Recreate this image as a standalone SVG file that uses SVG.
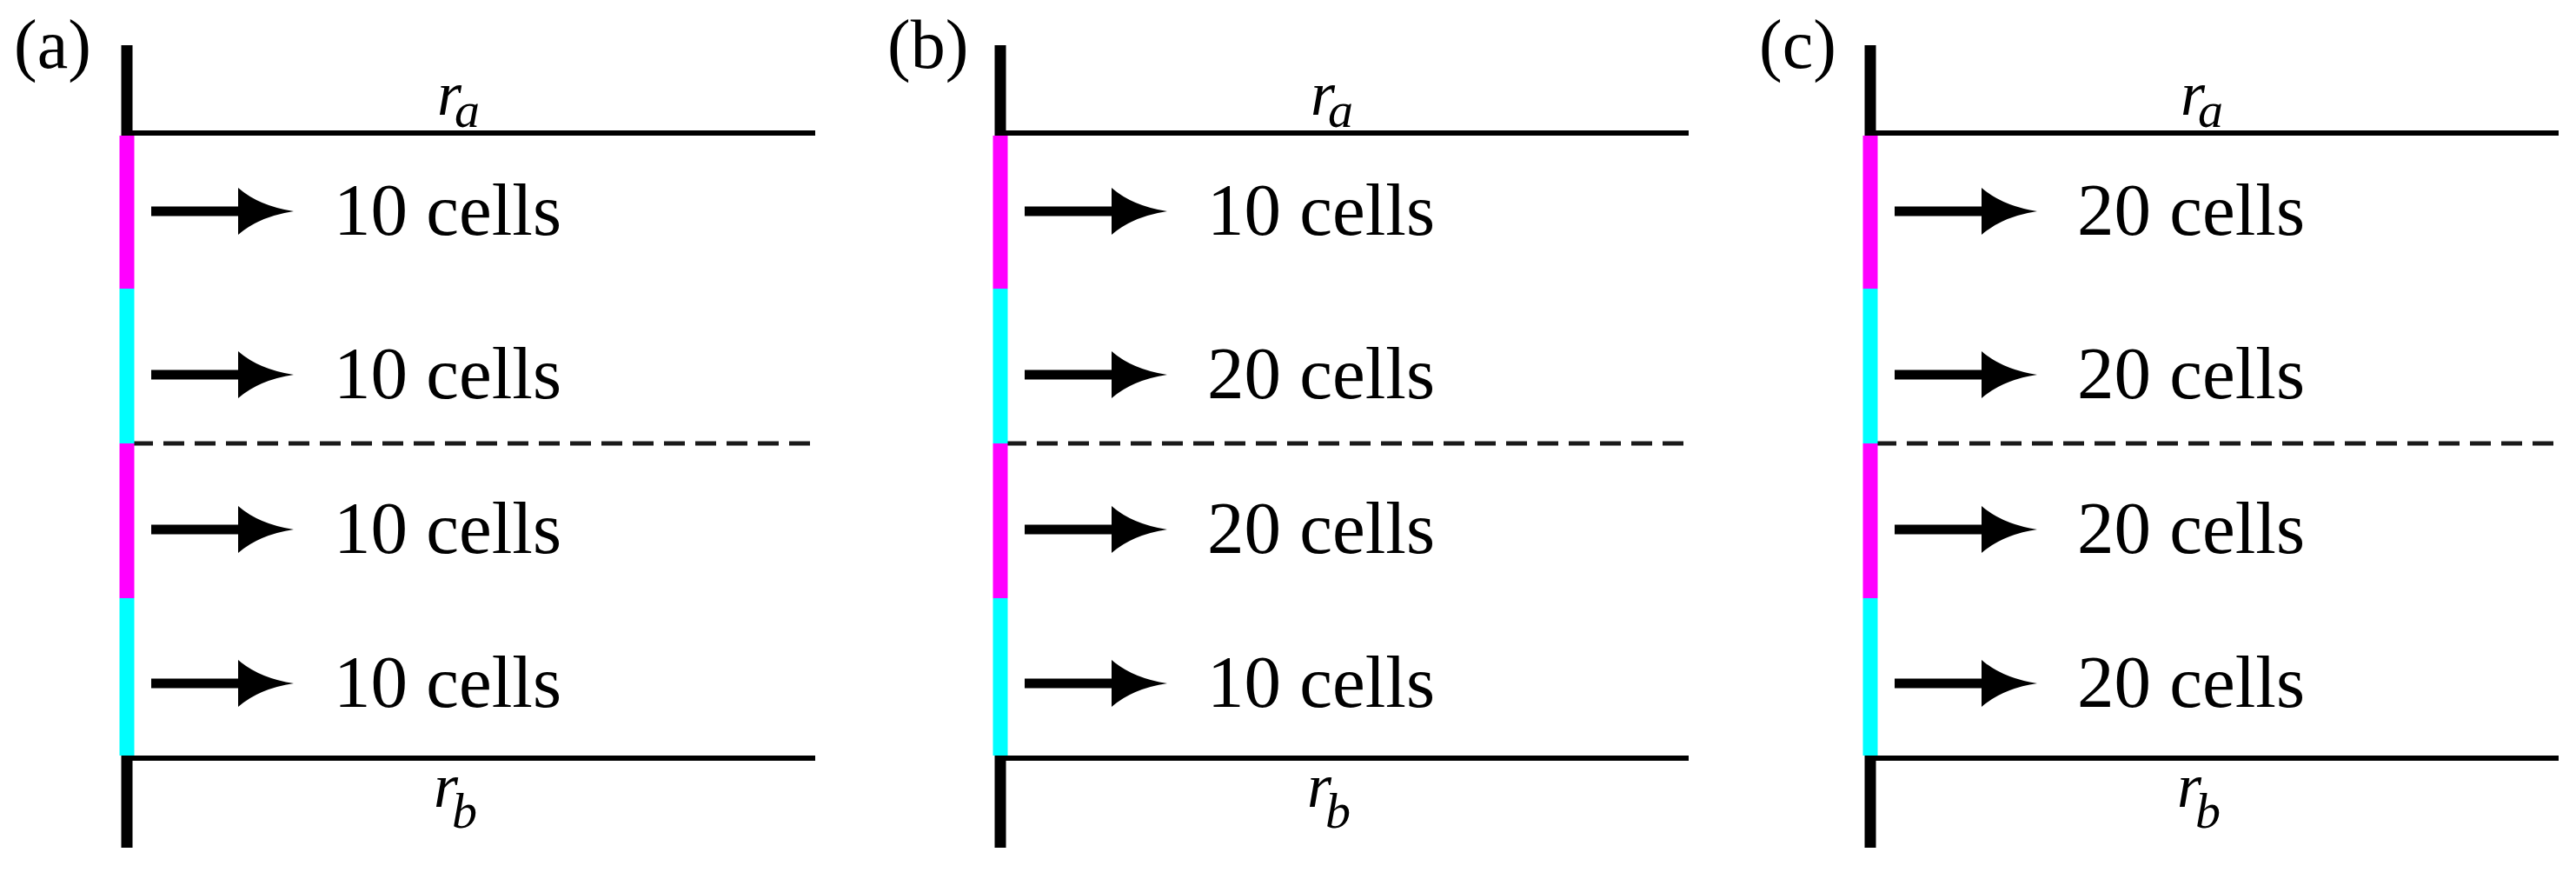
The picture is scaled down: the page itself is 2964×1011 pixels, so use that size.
<svg xmlns="http://www.w3.org/2000/svg" xmlns:xlink="http://www.w3.org/1999/xlink" width="2964" height="1011" viewBox="0 0 2964 1011">
<style>
.ax{stroke:#000;stroke-width:13;fill:none}
.wall{stroke:#000;stroke-width:6;fill:none}
.mag{stroke:#ff00ff;stroke-width:17;fill:none}
.cya{stroke:#00ffff;stroke-width:17;fill:none}
.dash{stroke:#1a1a1a;stroke-width:5;stroke-dasharray:24 12;fill:none}
.lbl{font-family:"Liberation Serif","DejaVu Serif",serif;font-size:85px;fill:#000}
.tag{font-family:"Liberation Serif","DejaVu Serif",serif;font-size:80px;fill:#000}
.r{font-family:"Liberation Serif","DejaVu Serif",serif;font-style:italic;font-size:72px;fill:#000}
.sub{font-family:"Liberation Serif","DejaVu Serif",serif;font-style:italic;font-size:58px;fill:#000}
</style>
<defs>
<g id="arr">
<line x1="0" y1="0" x2="108" y2="0" stroke="#000" stroke-width="11"/>
<path d="M100,-27 Q124,-6 164,0 Q124,6 100,27 Z" fill="#000"/>
</g>
<g id="frame">
<line class="ax" x1="0" y1="52" x2="0" y2="156"/>
<line class="ax" x1="0" y1="869" x2="0" y2="975"/>
<line class="wall" x1="0" y1="153" x2="792" y2="153"/>
<line class="wall" x1="0" y1="872" x2="792" y2="872"/>
<line class="dash" x1="6" y1="510" x2="792" y2="510"/>
<line class="mag" x1="0" y1="156" x2="0" y2="332"/>
<line class="cya" x1="0" y1="332" x2="0" y2="510"/>
<line class="mag" x1="0" y1="510" x2="0" y2="688"/>
<line class="cya" x1="0" y1="688" x2="0" y2="869"/>
<text class="r" x="357" y="132">r</text><text class="sub" x="377" y="146">a</text>
<text class="r" x="353" y="928">r</text><text class="sub" x="374" y="952">b</text>
</g>
</defs>

<g id="panel-a" transform="translate(146,0)">
<use xlink:href="#frame"/>
<text class="tag" x="-130" y="78">(a)</text>
<g id="a-row1"><text class="lbl" x="238" y="270">10 cells</text></g>
<g id="a-row2"><text class="lbl" x="238" y="458">10 cells</text></g>
<g id="a-row3"><text class="lbl" x="238" y="636">10 cells</text></g>
<g id="a-row4"><text class="lbl" x="238" y="813">10 cells</text></g>
</g>

<g id="panel-b" transform="translate(1151,0)">
<use xlink:href="#frame"/>
<text class="tag" x="-130" y="78">(b)</text>
<g id="b-row1"><text class="lbl" x="238" y="270">10 cells</text></g>
<g id="b-row2"><text class="lbl" x="238" y="458">20 cells</text></g>
<g id="b-row3"><text class="lbl" x="238" y="636">20 cells</text></g>
<g id="b-row4"><text class="lbl" x="238" y="813">10 cells</text></g>
</g>

<g id="panel-c" transform="translate(2152,0)">
<use xlink:href="#frame"/>
<text class="tag" x="-128" y="78">(c)</text>
<g id="c-row1"><text class="lbl" x="238" y="270">20 cells</text></g>
<g id="c-row2"><text class="lbl" x="238" y="458">20 cells</text></g>
<g id="c-row3"><text class="lbl" x="238" y="636">20 cells</text></g>
<g id="c-row4"><text class="lbl" x="238" y="813">20 cells</text></g>
</g>

<g id="connectors">
<use xlink:href="#arr" x="174" y="243"/>
<use xlink:href="#arr" x="174" y="431"/>
<use xlink:href="#arr" x="174" y="609"/>
<use xlink:href="#arr" x="174" y="786"/>
<use xlink:href="#arr" x="1179" y="243"/>
<use xlink:href="#arr" x="1179" y="431"/>
<use xlink:href="#arr" x="1179" y="609"/>
<use xlink:href="#arr" x="1179" y="786"/>
<use xlink:href="#arr" x="2180" y="243"/>
<use xlink:href="#arr" x="2180" y="431"/>
<use xlink:href="#arr" x="2180" y="609"/>
<use xlink:href="#arr" x="2180" y="786"/>
</g>
</svg>
